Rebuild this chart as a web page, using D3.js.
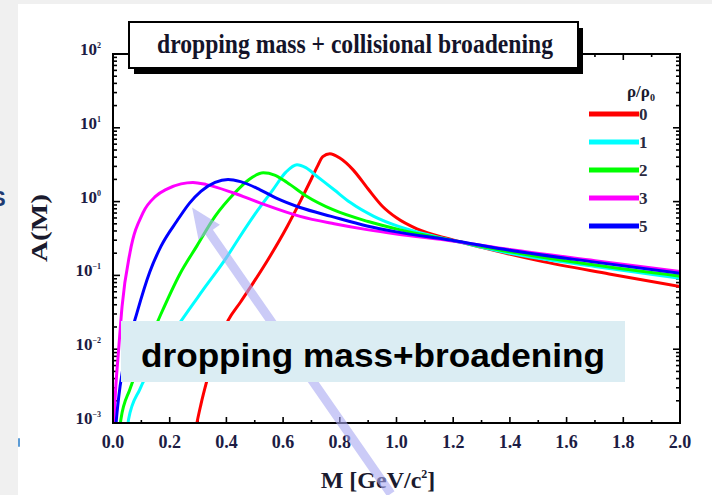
<!DOCTYPE html>
<html>
<head>
<meta charset="utf-8">
<script src="https://cdn.jsdelivr.net/npm/d3@7"></script>
<style>
  html, body { margin: 0; padding: 0; background: #f0f0f0; }
  svg { display: block; }
</style>
</head>
<body>
<div id="chart"></div>
<script>
"use strict";

// == DATA ==
var densities = ["0", "1", "2", "3", "5"];
var colors = ["#ff0000", "#00ffff", "#00ff00", "#ff00ff", "#0000ff"];

// mass M [GeV/c^2] and log10 A(M), one pair of arrays per curve
var massRed = [0.285, 0.296, 0.31, 0.331, 0.36, 0.406, 0.45, 0.483, 0.554, 0.614, 0.66, 0.70, 0.72, 0.74, 0.765, 0.80, 0.847, 0.90, 0.952, 1.0, 1.072, 1.19, 1.3, 1.5, 1.75, 2.0];
var logRed  = [-3.25, -3.0, -2.75, -2.43, -2.05, -1.61, -1.36, -1.17, -0.74, -0.34, 0.0, 0.31, 0.47, 0.61, 0.65, 0.59, 0.43, 0.17, -0.07, -0.22, -0.37, -0.51, -0.62, -0.80, -0.98, -1.15];

var massCyan = [0.045, 0.055, 0.095, 0.155, 0.236, 0.317, 0.40, 0.44, 0.51, 0.564, 0.61, 0.649, 0.68, 0.72, 0.78, 0.836, 0.92, 1.01, 1.1, 1.19, 1.4, 1.7, 2.0];
var logCyan  = [-3.3, -2.95, -2.54, -2.12, -1.64, -1.2, -0.76, -0.52, -0.12, 0.16, 0.40, 0.5, 0.46, 0.34, 0.16, -0.01, -0.2, -0.34, -0.44, -0.52, -0.70, -0.88, -1.04];

var massGreen = [0.018, 0.028, 0.06, 0.106, 0.166, 0.236, 0.296, 0.36, 0.43, 0.48, 0.53, 0.57, 0.614, 0.68, 0.776, 0.9, 1.01, 1.19, 1.4, 1.7, 2.0];
var logGreen  = [-3.3, -2.95, -2.54, -2.09, -1.55, -0.98, -0.6, -0.2, 0.12, 0.3, 0.39, 0.36, 0.26, 0.08, -0.11, -0.27, -0.38, -0.52, -0.68, -0.86, -1.01];

var massMagenta = [0.0, 0.003, 0.01, 0.02, 0.032, 0.06, 0.106, 0.15, 0.19, 0.24, 0.282, 0.33, 0.423, 0.52, 0.66, 0.78, 0.896, 1.0, 1.19, 1.4, 1.7, 2.0];
var logMagenta  = [-3.3, -3.0, -2.5, -2.0, -1.42, -0.69, -0.15, 0.07, 0.17, 0.24, 0.26, 0.23, 0.12, -0.02, -0.2, -0.3, -0.38, -0.44, -0.53, -0.65, -0.80, -0.946];

var massBlue = [0.005, 0.012, 0.025, 0.05, 0.085, 0.13, 0.17, 0.226, 0.27, 0.31, 0.36, 0.406, 0.45, 0.519, 0.58, 0.66, 0.77, 0.896, 1.0, 1.19, 1.4, 1.7, 2.0];
var logBlue  = [-3.3, -2.95, -2.5, -2.0, -1.5, -0.95, -0.6, -0.26, -0.02, 0.14, 0.26, 0.30, 0.27, 0.16, 0.04, -0.08, -0.2, -0.33, -0.41, -0.52, -0.66, -0.82, -0.97];

var xTicks = [0, 0.2, 0.4, 0.6, 0.8, 1.0, 1.2, 1.4, 1.6, 1.8, 2.0];
var xTickLabels = ["0.0", "0.2", "0.4", "0.6", "0.8", "1.0", "1.2", "1.4", "1.6", "1.8", "2.0"];
var yDecades = [-3, -2, -1, 0, 1, 2];

var title = "dropping mass + collisional broadening";
var boxText = "dropping mass+broadening";

// == BOILERPLATE ==
var width = 712, height = 495;
var plotLeft = 113, plotRight = 680, plotTop = 54, plotBottom = 423;

var svg = d3.select("#chart").append("svg")
  .attr("width", width).attr("height", height);

// white page with a grey strip on the left and top
svg.append("rect").attr("x", 18).attr("y", 4)
  .attr("width", width - 18).attr("height", height - 4).attr("fill", "#ffffff");
svg.append("text").attr("x", -9).attr("y", 206)
  .attr("font-family", "Liberation Sans, Arial, sans-serif").attr("font-weight", "bold")
  .attr("font-size", 22).attr("fill", "#1f3b73").text("S");
svg.append("rect").attr("x", 18).attr("y", 438).attr("width", 2).attr("height", 9)
  .attr("rx", 1).attr("fill", "#5b9bd5");

var xScale = d3.scaleLinear().domain([0, 2]).range([plotLeft, plotRight]);
var yScale = d3.scaleLog().domain([1e-3, 1e2]).range([plotBottom, plotTop]);

var serif = "Liberation Serif, Times New Roman, serif";
var labelColor = "#1c1c44";

svg.append("clipPath").attr("id", "plotClip")
  .append("rect").attr("x", plotLeft).attr("y", plotTop)
  .attr("width", plotRight - plotLeft).attr("height", plotBottom - plotTop);

// == TICKS ==
var xMinor = d3.range(0, 21).map(function(i){ return i / 10; });
var yMinor = [];
yDecades.slice(0, -1).forEach(function(d){
  for (var k = 2; k <= 9; k++) yMinor.push(k * Math.pow(10, d));
});

var tickG = svg.append("g").attr("stroke", "#000").attr("stroke-width", 1.6);
xMinor.forEach(function(v, i){
  var len = (i % 2 === 0) ? 6 : 3;
  tickG.append("line").attr("x1", xScale(v)).attr("x2", xScale(v))
    .attr("y1", plotBottom).attr("y2", plotBottom - len);
  tickG.append("line").attr("x1", xScale(v)).attr("x2", xScale(v))
    .attr("y1", plotTop).attr("y2", plotTop + len);
});
yDecades.forEach(function(d){
  var y = yScale(Math.pow(10, d));
  tickG.append("line").attr("x1", plotLeft).attr("x2", plotLeft + 7).attr("y1", y).attr("y2", y);
  tickG.append("line").attr("x1", plotRight).attr("x2", plotRight - 7).attr("y1", y).attr("y2", y);
});
yMinor.forEach(function(v){
  var y = yScale(v);
  tickG.append("line").attr("x1", plotLeft).attr("x2", plotLeft + 4).attr("y1", y).attr("y2", y);
  tickG.append("line").attr("x1", plotRight).attr("x2", plotRight - 4).attr("y1", y).attr("y2", y);
});

// tick labels
svg.selectAll(".xlab").data(xTicks).enter().append("text")
  .attr("x", function(d){ return xScale(d); })
  .attr("y", plotBottom + 25)
  .attr("text-anchor", "middle")
  .attr("font-family", serif).attr("font-weight", "bold").attr("font-size", 18)
  .attr("fill", labelColor)
  .text(function(d, i){ return xTickLabels[i]; });

var ylab = svg.selectAll(".ylab").data(yDecades).enter().append("text")
  .attr("x", 101)
  .attr("y", function(d){ return yScale(Math.pow(10, d)) + 1; })
  .attr("text-anchor", "end")
  .attr("font-family", serif).attr("font-weight", "bold").attr("font-size", 17)
  .attr("fill", labelColor);
ylab.append("tspan").text("10");
ylab.append("tspan").attr("dy", -7).attr("font-size", 8)
  .text(function(d){ return d < 0 ? "\u2212" + (-d) : String(d); });

// axis titles
svg.append("text").attr("x", 378).attr("y", 488).attr("text-anchor", "middle")
  .attr("font-family", serif).attr("font-weight", "bold").attr("font-size", 24)
  .attr("fill", "#1a1a2e")
  .html('M [GeV/c<tspan dy="-10" font-size="12">2</tspan><tspan dy="10">]</tspan>');

svg.append("text")
  .attr("transform", "translate(47,228) rotate(-90)")
  .attr("text-anchor", "middle")
  .attr("font-family", serif).attr("font-weight", "bold").attr("font-size", 23)
  .attr("textLength", 68).attr("lengthAdjust", "spacingAndGlyphs")
  .attr("fill", "#1a1a2e").text("A(M)");

// == CURVES ==
var series = [
  { m: massRed, l: logRed },
  { m: massCyan, l: logCyan },
  { m: massGreen, l: logGreen },
  { m: massMagenta, l: logMagenta },
  { m: massBlue, l: logBlue }
].map(function(s, i){
  return { key: densities[i], color: colors[i],
    values: s.m.map(function(m, j){ return { m: m, a: Math.pow(10, s.l[j]) }; }) };
});

var line = d3.line()
  .x(function(d){ return xScale(d.m); })
  .y(function(d){ return yScale(d.a); })
  .curve(d3.curveMonotoneX);

svg.append("g").attr("clip-path", "url(#plotClip)")
  .selectAll("path").data(series).enter().append("path")
  .attr("d", function(d){ return line(d.values); })
  .attr("fill", "none")
  .attr("stroke", function(d){ return d.color; })
  .attr("stroke-width", 3)
  .attr("stroke-linejoin", "round");

// frame
svg.append("rect").attr("x", plotLeft).attr("y", plotTop)
  .attr("width", plotRight - plotLeft).attr("height", plotBottom - plotTop)
  .attr("fill", "none").attr("stroke", "#000").attr("stroke-width", 2);

// == LEGEND ==
var legendY = d3.scalePoint().domain(densities).range([114, 226]);
var legend = svg.append("g");
legend.append("text").attr("x", 627).attr("y", 97)
  .attr("font-family", serif).attr("font-weight", "bold").attr("font-size", 17)
  .attr("fill", "#1a1a2e")
  .html('\u03c1/\u03c1<tspan dy="4" font-size="10">0</tspan>');
series.forEach(function(s){
  var y = legendY(s.key);
  legend.append("line").attr("x1", 589).attr("x2", 639).attr("y1", y).attr("y2", y)
    .attr("stroke", s.color).attr("stroke-width", 5);
  legend.append("text").attr("x", 639).attr("y", y + 6)
    .attr("font-family", serif).attr("font-weight", "bold").attr("font-size", 17)
    .attr("fill", "#2a2a40").text(s.key);
});

// == TITLE BOX ==
svg.append("rect").attr("x", 134).attr("y", 28).attr("width", 449).attr("height", 46)
  .attr("fill", "#000");
svg.append("rect").attr("x", 129).attr("y", 22).attr("width", 449).attr("height", 46)
  .attr("fill", "#fff").attr("stroke", "#000").attr("stroke-width", 2);
svg.append("text").attr("x", 157).attr("y", 53)
  .attr("font-family", serif).attr("font-weight", "bold").attr("font-size", 28)
  .attr("textLength", 396).attr("lengthAdjust", "spacingAndGlyphs")
  .attr("fill", "#14142a").text(title);

// == ANNOTATIONS ==
// arrow in data units: tip near M=0.28, tail below the axis
var tip = [xScale(0.279), yScale(0.83)];
var tail = [xScale(0.98), yScale(1.1e-4)];
var dx = tail[0] - tip[0], dy = tail[1] - tip[1], len = Math.sqrt(dx*dx + dy*dy);
var ux = dx / len, uy = dy / len, px = uy, py = -ux;
var headLen = 30, headW = 13, shaftW = 4.5;
var baseX = tip[0] + ux * headLen, baseY = tip[1] + uy * headLen;
var arrowPts = [
  tip,
  [baseX + px * headW, baseY + py * headW],
  [baseX + px * shaftW, baseY + py * shaftW],
  [tail[0] + px * shaftW, tail[1] + py * shaftW],
  [tail[0] - px * shaftW, tail[1] - py * shaftW],
  [baseX - px * shaftW, baseY - py * shaftW],
  [baseX - px * headW, baseY - py * headW]
];
svg.append("path")
  .attr("d", d3.line()(arrowPts) + "Z")
  .attr("fill", "#a9a9f2").attr("opacity", 0.6);

svg.append("rect").attr("x", 121).attr("y", 321).attr("width", 504).attr("height", 61)
  .attr("fill", "#dbedf3");
svg.append("text").attr("x", 141).attr("y", 367)
  .attr("font-family", "Liberation Sans, Arial, sans-serif").attr("font-weight", "bold")
  .attr("font-size", 34).attr("textLength", 464).attr("lengthAdjust", "spacingAndGlyphs")
  .attr("fill", "#000").text(boxText);
</script>
</body>
</html>
